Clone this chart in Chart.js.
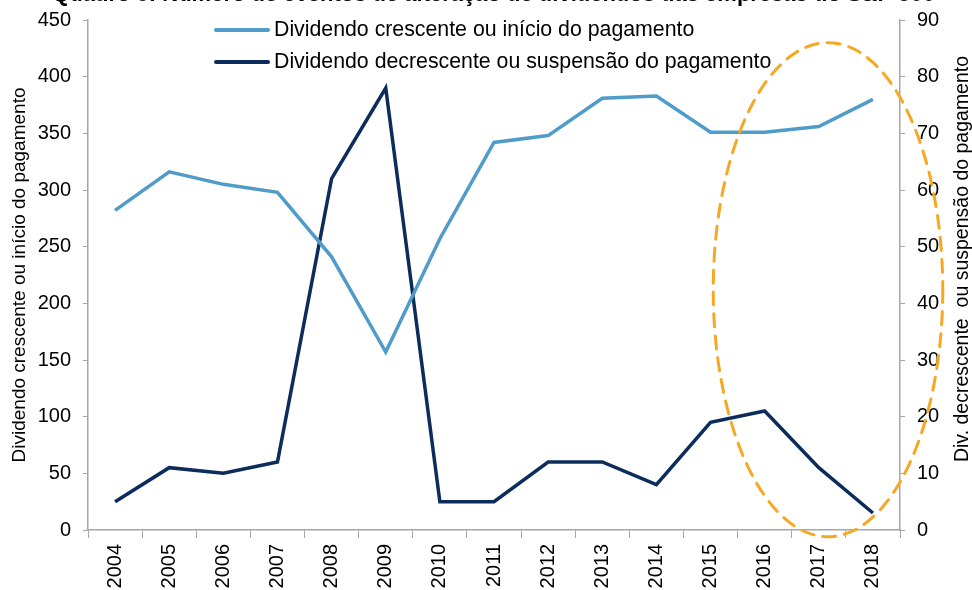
<!DOCTYPE html>
<html>
<head>
<meta charset="utf-8">
<script src="https://cdn.jsdelivr.net/npm/chart.js@4.4.1/dist/chart.umd.min.js"></script>
<style>
  html, body { margin: 0; padding: 0; background: #fff; }
</style>
</head>
<body>
<canvas id="chartDividendos" width="972" height="590"></canvas>
<script>
const anos = ['2004','2005','2006','2007','2008','2009','2010','2011','2012','2013','2014','2015','2016','2017','2018']
const crescente = [282, 316, 305, 298, 241, 157, 257, 342, 348, 381, 383, 351, 351, 356, 380]
const decrescente = [5, 11, 10, 12, 62, 78, 5, 5, 12, 12, 8, 19, 21, 11, 3]
const labelCresc = 'Dividendo crescente ou início do pagamento'
const labelDecr = 'Dividendo decrescente ou suspensão do pagamento'
const tituloEsq = 'Dividendo crescente ou início do pagamento'
const tituloDir = 'Div. decrescente  ou suspensão do pagamento'
const titulo = 'Quadro 8: Número de eventos de alteração de dividendos das empresas do S&P 500'

const fonte = '"Liberation Sans", Arial, sans-serif'
const cinza = '#a6a6a6'

// legenda dentro do grafico, titulo da direita e elipse laranja
const extras = {
  id: 'extras',
  afterDraw(chart) {
    const ctx = chart.ctx
    const area = chart.chartArea
    const x = chart.scales.x
    const y = chart.scales.y
    ctx.save()

    // titulo cortado no topo
    ctx.font = 'bold 22px ' + fonte
    ctx.fillStyle = '#000'
    ctx.textAlign = 'right'
    ctx.textBaseline = 'alphabetic'
    ctx.fillText(titulo, 935, 1)

    // legenda
    ctx.font = '21.3px ' + fonte
    ctx.textAlign = 'left'
    ctx.textBaseline = 'middle'
    chart.data.datasets.forEach((ds, i) => {
      const ly = 30 + i * 32
      ctx.strokeStyle = ds.borderColor
      ctx.lineWidth = 4
      ctx.lineCap = 'round'
      ctx.beginPath()
      ctx.moveTo(216, ly)
      ctx.lineTo(268, ly)
      ctx.stroke()
      ctx.fillStyle = '#000'
      ctx.fillText(ds.label, 274, ly)
    })

    // titulo eixo direito
    ctx.save()
    ctx.translate(963, (area.top + area.bottom) / 2 - 16)
    ctx.rotate(-Math.PI / 2)
    ctx.textAlign = 'center'
    ctx.textBaseline = 'middle'
    ctx.font = '19.5px ' + fonte
    ctx.fillText(tituloDir, 0, 0)
    ctx.restore()

    // elipse tracejada em volta de 2016-2018
    const cat = x.getPixelForValue(1) - x.getPixelForValue(0)
    const cx = x.getPixelForValue(13) + 0.17 * cat
    const cy = y.getPixelForValue(212)
    const rx = 2.12 * cat
    const ry = y.getPixelForValue(0) - y.getPixelForValue(218)
    ctx.strokeStyle = '#f7a823'
    ctx.lineWidth = 3
    ctx.setLineDash([13, 9])
    ctx.beginPath()
    ctx.ellipse(cx, cy, rx, ry, 0, 0, Math.PI * 2)
    ctx.stroke()
    ctx.restore()
  }
}

const graphic = document.getElementById('chartDividendos')
new Chart(graphic, {
  type: 'line',
  data: {
    labels: anos,
    datasets: [{
      label: labelCresc,
      data: crescente,
      borderColor: '#4f9bc9',
      borderWidth: 3.5,
      pointRadius: 0,
      yAxisID: 'y',
      tension: 0
    }, {
      label: labelDecr,
      data: decrescente,
      borderColor: '#0c2d5c',
      borderWidth: 3.5,
      pointRadius: 0,
      yAxisID: 'y2',
      tension: 0
    }]
  },
  options: {
    responsive: false,
    animation: false,
    devicePixelRatio: 1,
    layout: { padding: { top: 20, left: 0, right: 0, bottom: 0 } },
    plugins: {
      legend: { display: false },
      tooltip: { enabled: false }
    },
    scales: {
      x: {
        offset: true,
        grid: { offset: true, drawOnChartArea: false, color: cinza, tickLength: 8 },
        border: { color: cinza, width: 1.5 },
        ticks: { color: '#000', font: { family: fonte, size: 20 }, maxRotation: 90, minRotation: 90, padding: 6 },
        afterFit(s) { s.height = 60; s.paddingLeft = 0; s.paddingRight = 0 }
      },
      y: {
        position: 'left',
        min: 0, max: 450,
        ticks: { stepSize: 50, color: '#000', font: { family: fonte, size: 20 }, padding: 12 },
        grid: { drawOnChartArea: false, color: cinza, tickLength: 5 },
        border: { color: cinza, width: 1.5 },
        title: { display: true, text: tituloEsq, color: '#000', font: { family: fonte, size: 19 }, padding: { top: 8, bottom: 0 } },
        afterFit(s) { s.width = 88; s.paddingTop = 0; s.paddingBottom = 0 }
      },
      y2: {
        position: 'right',
        min: 0, max: 90,
        ticks: { stepSize: 10, color: '#000', font: { family: fonte, size: 20 }, padding: 12 },
        grid: { drawOnChartArea: false, color: cinza, tickLength: 5 },
        border: { color: cinza, width: 1.5 },
        afterFit(s) { s.width = 72; s.paddingTop = 0; s.paddingBottom = 0 }
      }
    }
  },
  plugins: [extras]
})
</script>
</body>
</html>
